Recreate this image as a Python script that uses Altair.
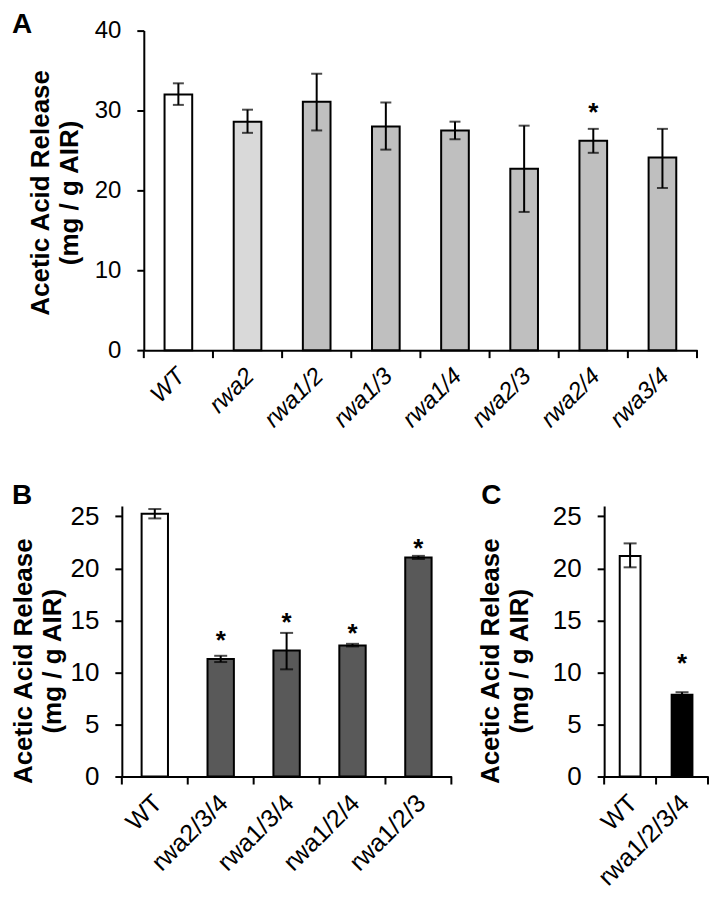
import altair as alt
import pandas as pd

# ---------------- data ----------------
a_genotypes = ["WT", "rwa2", "rwa1/2", "rwa1/3", "rwa1/4", "rwa2/3", "rwa2/4", "rwa3/4"]
a_means = [32.0, 28.6, 31.1, 28.0, 27.5, 22.7, 26.2, 24.1]
a_lower = [30.7, 27.2, 27.5, 25.1, 26.4, 17.3, 24.7, 20.3]
a_upper = [33.4, 30.1, 34.6, 31.0, 28.6, 28.1, 27.7, 27.7]
a_star_genotypes = ["rwa2/4"]
a_star_y = [30.5]

b_genotypes = ["WT", "rwa2/3/4", "rwa1/3/4", "rwa1/2/4", "rwa1/2/3"]
b_means = [25.25, 11.3, 12.1, 12.6, 21.05]
b_lower = [24.8, 11.0, 10.3, 12.5, 20.9]
b_upper = [25.7, 11.6, 13.8, 12.75, 21.2]
b_star_genotypes = ["rwa2/3/4", "rwa1/3/4", "rwa1/2/4", "rwa1/2/3"]
b_star_y = [13.65, 15.4, 14.3, 22.5]

c_genotypes = ["WT", "rwa1/2/3/4"]
c_means = [21.2, 7.85]
c_lower = [20.1, 7.6]
c_upper = [22.4, 8.1]
c_star_genotypes = ["rwa1/2/3/4"]
c_star_y = [11.4]

# ---------------- styles ----------------
a_colors = ["#ffffff", "#d9d9d9", "#bfbfbf", "#bfbfbf", "#bfbfbf", "#bfbfbf", "#bfbfbf", "#bfbfbf"]
b_colors = ["#ffffff", "#595959", "#595959", "#595959", "#595959"]
c_colors = ["#ffffff", "#000000"]

FONT = "Liberation Sans"
TITLE = ["Acetic Acid Release", "(mg / g AIR)"]


def panel(letter, genos, means, lower, upper, star_g, star_y, colors,
          width, height, ymax, yvals, tick_size, xlab_size, xlab_style, cap,
          title_x, title_y, letter_xy, star_size):
    df = pd.DataFrame({"g": genos, "m": means, "lo": lower, "hi": upper, "col": colors})
    sdf = pd.DataFrame({"g": star_g, "y": star_y})
    step = width / len(genos)

    xscale = alt.Scale(domain=genos, paddingInner=0.6, paddingOuter=0.3)
    yscale = alt.Scale(domain=[0, ymax], nice=False, zero=True)

    x_axis = alt.Axis(title=None, ticks=False, tickSize=0, labelAngle=315, labelAlign="right",
                      labelBaseline="middle", labelFont=FONT, labelFontSize=xlab_size,
                      labelFontStyle=xlab_style, labelColor="black", labelPadding=22,
                      labelOffset=3, domainColor="black", domainWidth=2, labelOverlap=False)
    y_axis = alt.Axis(title=TITLE, values=yvals, grid=False, tickSize=7,
                      tickColor="black", tickWidth=2, domainColor="black", domainWidth=2,
                      labelFont=FONT, labelFontSize=tick_size, labelColor="black",
                      labelPadding=16, titleFont=FONT, titleFontSize=26,
                      titleFontWeight="bold", titleColor="black",
                      titleLineHeight=29, titleBaseline="alphabetic",
                      titleX=title_x, titleY=title_y)

    base = alt.Chart(df)
    xenc = alt.X("g:N", scale=xscale, sort=genos, axis=x_axis)
    bars = base.mark_bar(stroke="black", strokeWidth=2).encode(
        x=xenc,
        y=alt.Y("m:Q", scale=yscale, axis=y_axis),
        fill=alt.Fill("col:N", scale=None, legend=None),
    )
    err = base.mark_rule(color="black", strokeWidth=2).encode(x=xenc, y="lo:Q", y2="hi:Q")
    cap_lo = base.mark_tick(color="black", thickness=2, size=cap).encode(x=xenc, y="lo:Q")
    cap_hi = base.mark_tick(color="black", thickness=2, size=cap).encode(x=xenc, y="hi:Q")
    # x-axis tick marks between categories
    xt = base.mark_rule(color="black", strokeWidth=2, xOffset=-step / 2).encode(
        x=xenc, y=alt.value(height), y2=alt.value(height + 8))
    xt_end = alt.Chart(df.tail(1)).mark_rule(color="black", strokeWidth=2, xOffset=step / 2).encode(
        x=xenc, y=alt.value(height), y2=alt.value(height + 8))
    stars = alt.Chart(sdf).mark_text(text="*", font=FONT, fontSize=star_size, fontWeight="bold",
                                     baseline="middle", color="black", dy=star_size * 0.25).encode(
        x=xenc, y="y:Q")
    lab = alt.Chart(pd.DataFrame({"p": [letter]})).mark_text(
        text=letter, font=FONT, fontSize=28, fontWeight="bold", align="left",
        baseline="alphabetic", color="black").encode(
        x=alt.value(letter_xy[0]), y=alt.value(letter_xy[1]))

    return alt.layer(bars, err, cap_lo, cap_hi, xt, xt_end, stars, lab).properties(
        width=width, height=height)


A = panel("A", a_genotypes, a_means, a_lower, a_upper, a_star_genotypes, a_star_y, a_colors,
          554, 320, 40, [0, 10, 20, 30, 40], 24, 24, "italic", 11,
          -95, 162, (-132, 2), 26)
B = panel("B", b_genotypes, b_means, b_lower, b_upper, b_star_genotypes, b_star_y, b_colors,
          330, 271, 26, [0, 5, 10, 15, 20, 25], 26, 25, "normal", 13,
          -90.5, 155, (-110, -2), 26)
C = panel("C", c_genotypes, c_means, c_lower, c_upper, c_star_genotypes, c_star_y, c_colors,
          104, 271, 26, [0, 5, 10, 15, 20, 25], 26, 25, "normal", 13,
          -106, 155, (-123, -2), 26)

spacer = alt.Chart(pd.DataFrame({"s": [0]})).mark_point(opacity=0, size=1).encode(
    x=alt.value(0), y=alt.value(0)).properties(width=1, height=320)

row1 = alt.hconcat(spacer, A, spacing=21, bounds="flush")
row2 = alt.hconcat(B, C, spacing=153, bounds="flush")
chart = alt.vconcat(row1, row2, spacing=50).properties(
    padding={"left": 2, "top": 2, "right": 0, "bottom": 0}, background="white"
).configure_view(stroke="transparent", strokeWidth=0)

chart.save("out.html", embed_options={"renderer": "svg", "actions": False})
